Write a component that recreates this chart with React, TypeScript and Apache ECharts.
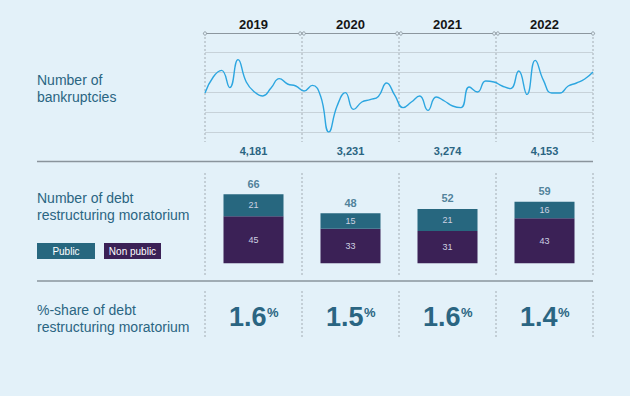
import React, { useEffect, useRef } from "react";
import * as echarts from "echarts";

const years = ["2019", "2020", "2021", "2022"];
const monthLabels = [
  "19-01","19-02","19-03","19-04","19-05","19-06","19-07","19-08","19-09","19-10","19-11","19-12",
  "20-01","20-02","20-03","20-04","20-05","20-06","20-07","20-08","20-09","20-10","20-11","20-12",
  "21-01","21-02","21-03","21-04","21-05","21-06","21-07","21-08","21-09","21-10","21-11","21-12",
  "22-01","22-02","22-03","22-04","22-05","22-06","22-07","22-08","22-09","22-10","22-11","22-12",
];
const bankruptcyIndex = [
  1.95, 2.75, 3.08, 2.22, 3.62, 2.5, 2.0, 1.8, 2.2, 2.67, 2.4, 2.3,
  2.05, 2.33, 1.8, 0.0, 1.3, 1.97, 1.13, 1.5, 1.62, 1.78, 2.45, 1.83,
  1.22, 1.5, 1.8, 1.08, 1.75, 1.55, 1.3, 1.22, 2.25, 2.0, 2.55, 2.5,
  2.3, 2.17, 3.05, 1.88, 3.58, 2.58, 1.95, 1.95, 2.3, 2.45, 2.65, 3.0,
];
const bankruptcyTotals = ["4,181", "3,231", "3,274", "4,153"];
const publicMoratoria = [21, 15, 21, 16];
const nonPublicMoratoria = [45, 33, 31, 43];
const totalMoratoria = [66, 48, 52, 59];
const shareValues = ["1.6", "1.5", "1.6", "1.4"];

const FONT = "'Liberation Sans', Arial, Helvetica, sans-serif";
const TEAL = "#27677f";
const PURPLE = "#3b2156";
const TEXT_TEAL = "#2a6582";

export default function App() {
  const ref = useRef<HTMLDivElement>(null);
  useEffect(() => {
    if (!ref.current) return;
    const chart = echarts.init(ref.current, undefined, { renderer: "svg" });
    const X0 = 205;
    const X1 = 593;
    const colW = (X1 - X0) / 4;
    const g: any[] = [];
    const dashStyle = { stroke: "#a3acb3", lineWidth: 1, lineDash: [2, 2] };
    // dividers
    for (let k = 0; k <= 4; k++) {
      const x = X0 + k * colW;
      [[37, 142], [173, 275], [291, 338]].forEach(([y1, y2]) => {
        g.push({ type: "line", shape: { x1: x, y1, x2: x, y2 }, style: dashStyle, silent: true });
      });
    }
    // timeline
    g.push({ type: "line", shape: { x1: X0, y1: 33.5, x2: X1, y2: 33.5 }, style: { stroke: "#8c979f", lineWidth: 1.2 } });
    for (let k = 0; k <= 4; k++) {
      const x = X0 + k * colW;
      const xs = k === 0 ? [x] : k === 4 ? [x] : [x - 1.8, x + 1.8];
      xs.forEach((cx) =>
        g.push({ type: "circle", shape: { cx, cy: 33.5, r: 1.6 }, style: { fill: "#e3f1f9", stroke: "#8c979f", lineWidth: 1 } })
      );
    }
    // separators
    [161.5, 281].forEach((y) =>
      g.push({ type: "line", shape: { x1: 37, y1: y, x2: X1, y2: y }, style: { stroke: "#8a949c", lineWidth: 1.5 } })
    );
    // column texts
    years.forEach((yr, i) => {
      const cx = X0 + colW * (i + 0.5);
      g.push({ type: "text", style: { text: yr, x: cx, y: 24, align: "center", verticalAlign: "middle", fontFamily: FONT, fontSize: 13, fontWeight: "bold", fill: "#151515" } });
      g.push({ type: "text", style: { text: bankruptcyTotals[i], x: cx, y: 151, align: "center", verticalAlign: "middle", fontFamily: FONT, fontSize: 11, fontWeight: "bold", fill: TEXT_TEAL } });
      g.push({ type: "text", style: { text: shareValues[i], x: cx + 13, y: 317, align: "right", verticalAlign: "middle", fontFamily: FONT, fontSize: 27, fontWeight: "bold", fill: TEXT_TEAL } });
      g.push({ type: "text", style: { text: "%", x: cx + 13.5, y: 312, align: "left", verticalAlign: "middle", fontFamily: FONT, fontSize: 13, fontWeight: "bold", fill: TEXT_TEAL } });
    });
    // left labels
    const leftLabel = (text: string, y: number) =>
      g.push({ type: "text", style: { text, x: 37, y, align: "left", verticalAlign: "middle", fontFamily: FONT, fontSize: 14, lineHeight: 17, fill: TEXT_TEAL } });
    leftLabel("Number of\nbankruptcies", 88);
    leftLabel("Number of debt\nrestructuring moratorium", 206);
    leftLabel("%-share of debt\nrestructuring moratorium", 318.5);
    // legend
    g.push({ type: "rect", shape: { x: 37, y: 243, width: 58, height: 16 }, style: { fill: TEAL } });
    g.push({ type: "text", style: { text: "Public", x: 66, y: 251, align: "center", verticalAlign: "middle", fontFamily: FONT, fontSize: 10, fill: "#ffffff" } });
    g.push({ type: "rect", shape: { x: 104, y: 243, width: 57, height: 16 }, style: { fill: PURPLE } });
    g.push({ type: "text", style: { text: "Non public", x: 132.5, y: 251, align: "center", verticalAlign: "middle", fontFamily: FONT, fontSize: 10, fill: "#ffffff" } });

    const barTop = 263.3 - 80 * 1.045;
    const option: any = {
      animation: false,
      backgroundColor: "#e3f1f9",
      textStyle: { fontFamily: FONT },
      grid: [
        { left: X0, right: 630 - X1, top: 52, height: 80 },
        { left: X0, right: 630 - X1, top: barTop, height: 263.3 - barTop },
      ],
      xAxis: [
        { gridIndex: 0, type: "category", data: monthLabels, boundaryGap: false, show: false },
        { gridIndex: 1, type: "category", data: years, show: false },
      ],
      yAxis: [
        {
          gridIndex: 0, type: "value", min: 0, max: 4, interval: 1,
          axisLine: { show: false }, axisTick: { show: false }, axisLabel: { show: false },
          splitLine: { show: true, lineStyle: { color: "#c7d2d9", width: 1 } },
        },
        { gridIndex: 1, type: "value", min: 0, max: 80, show: false, splitLine: { show: false } },
      ],
      series: [
        {
          type: "line", xAxisIndex: 0, yAxisIndex: 0, data: bankruptcyIndex, smooth: 0.5,
          symbol: "none", lineStyle: { color: "#2ca6e0", width: 1.4 },
        },
        {
          type: "bar", xAxisIndex: 1, yAxisIndex: 1, stack: "m", data: nonPublicMoratoria, barWidth: 60,
          itemStyle: { color: PURPLE },
          label: { show: true, position: "inside", color: "#cdd1e2", fontSize: 9, fontFamily: FONT },
        },
        {
          type: "bar", xAxisIndex: 1, yAxisIndex: 1, stack: "m", data: publicMoratoria, barWidth: 60,
          itemStyle: { color: TEAL },
          label: { show: true, position: "inside", color: "#cdd1e2", fontSize: 9, fontFamily: FONT },
        },
        {
          type: "scatter", xAxisIndex: 1, yAxisIndex: 1, data: totalMoratoria, symbolSize: 0,
          label: { show: true, position: "top", distance: 5, color: TEXT_TEAL, fontSize: 11, fontWeight: "bold", fontFamily: FONT, formatter: (p: any) => String(p.value) },
        },
      ],
      graphic: g,
    };
    chart.setOption(option);
    return () => chart.dispose();
  }, []);
  return <div ref={ref} style={{ position: "fixed", left: 0, top: 0, width: 630, height: 396, background: "#e3f1f9" }} />;
}
